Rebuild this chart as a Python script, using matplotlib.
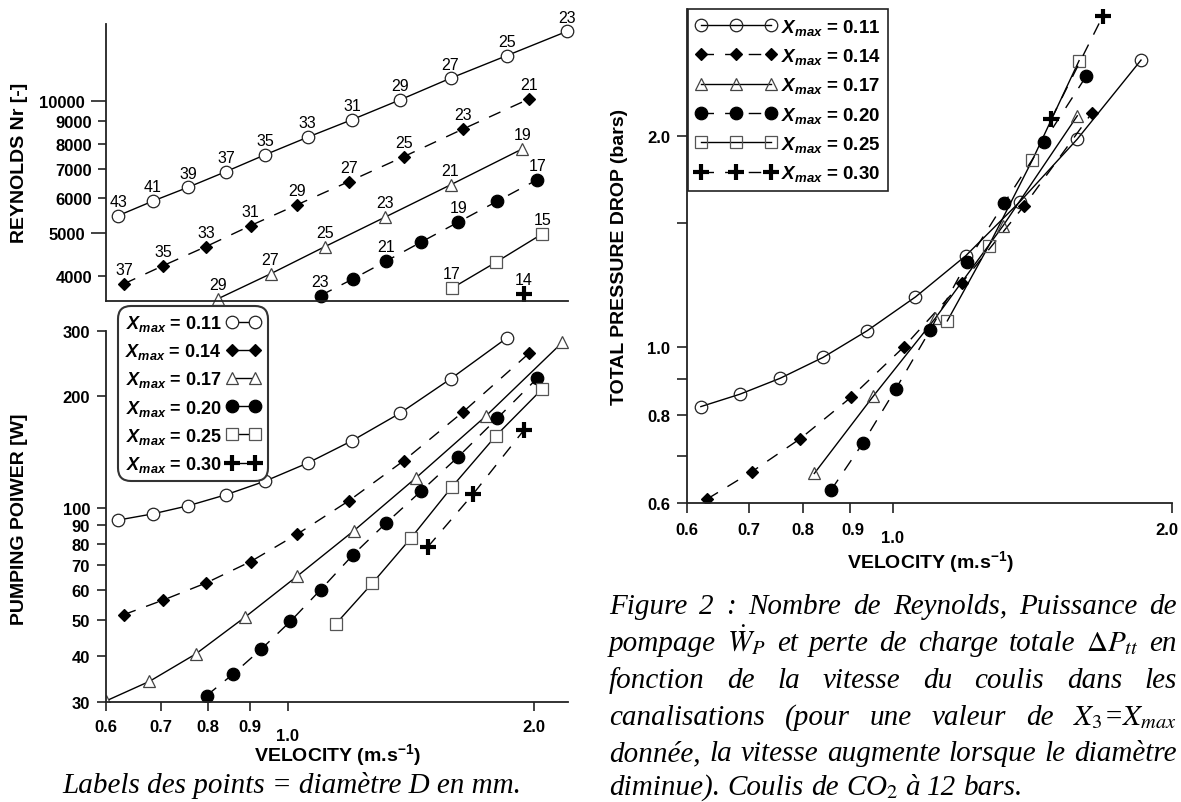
import re
import matplotlib
matplotlib.use('Agg')
import matplotlib.pyplot as plt
from matplotlib.lines import Line2D
from matplotlib.ticker import FixedLocator, NullLocator, FixedFormatter, NullFormatter

plt.rcParams['font.family'] = ['Liberation Sans', 'DejaVu Sans']
plt.rcParams['mathtext.fontset'] = 'custom'
plt.rcParams['mathtext.rm'] = 'Liberation Sans:bold'
plt.rcParams['mathtext.it'] = 'Liberation Sans:italic:bold'
plt.rcParams['mathtext.bf'] = 'Liberation Sans:bold'

# ------------------------------------------------------------------ data
xmax_values = ['0.11', '0.14', '0.17', '0.20', '0.25', '0.30']

# Reynolds number panel (velocity m/s, Reynolds, point label = diameter mm)
re_v_011 = [0.621, 0.684, 0.756, 0.841, 0.938, 1.058, 1.199, 1.371, 1.581, 1.852, 2.195]
re_011 = [5485, 5916, 6364, 6909, 7540, 8270, 9069, 10052, 11262, 12676, 14402]
re_lab_011 = ['43', '41', '39', '37', '35', '33', '31', '29', '27', '25', '23']

re_v_014 = [0.631, 0.705, 0.795, 0.901, 1.028, 1.188, 1.386, 1.639, 1.972]
re_014 = [3838, 4223, 4665, 5206, 5811, 6556, 7469, 8639, 10105]
re_lab_014 = ['37', '35', '33', '31', '29', '27', '25', '23', '21']

re_v_017 = [0.823, 0.953, 1.111, 1.315, 1.581, 1.934]
re_017 = [3553, 4044, 4665, 5441, 6444, 7777]
re_lab_017 = ['29', '27', '25', '23', '21', '19']

re_v_020 = [1.097, 1.202, 1.319, 1.455, 1.616, 1.803, 2.019]
re_020 = [3610, 3939, 4322, 4774, 5302, 5916, 6625]
re_lab_020 = ['23', '', '21', '', '19', '', '17']

re_v_025 = [1.588, 1.797, 2.046]
re_025 = [3753, 4299, 4985]
re_lab_025 = ['17', '', '15']

re_v_030 = [1.944]
re_030 = [3642]
re_lab_030 = ['14']

# Pumping power panel (W)
pw_v_011 = [0.621, 0.684, 0.756, 0.841, 0.938, 1.058, 1.199, 1.371, 1.581, 1.852]
pw_011 = [92.8, 96.4, 101.4, 108.6, 118.1, 132.2, 151.9, 180.0, 222.8, 287.2]
pw_v_014 = [0.631, 0.705, 0.795, 0.901, 1.028, 1.188, 1.386, 1.639, 1.972]
pw_014 = [51.6, 56.5, 62.8, 71.7, 85.1, 104.6, 134.1, 181.8, 261.3]
pw_v_017 = [0.600, 0.678, 0.772, 0.887, 1.028, 1.205, 1.434, 1.745, 2.166]
pw_017 = [30.2, 34.1, 40.4, 50.8, 65.6, 86.9, 120.5, 176.7, 279.7]
pw_v_020 = [0.796, 0.858, 0.929, 1.008, 1.097, 1.202, 1.319, 1.455, 1.616, 1.803, 2.019]
pw_020 = [31.2, 35.7, 41.7, 49.5, 60.2, 74.8, 91.1, 111.0, 137.5, 174.5, 224.1]
pw_v_025 = [1.145, 1.269, 1.414, 1.588, 1.797, 2.046]
pw_025 = [48.7, 62.7, 82.9, 114.1, 156.7, 209.3]
pw_v_030 = [1.482, 1.685, 1.944]
pw_030 = [78.4, 109.1, 162.3]

# Total pressure drop panel (bars)
dp_v_011 = [0.621, 0.684, 0.756, 0.841, 0.938, 1.058, 1.199, 1.371, 1.581, 1.852]
dp_011 = [0.823, 0.857, 0.903, 0.967, 1.055, 1.179, 1.350, 1.611, 1.978, 2.563]
dp_v_014 = [0.631, 0.705, 0.795, 0.901, 1.028, 1.188, 1.386, 1.639]
dp_014 = [0.608, 0.665, 0.741, 0.848, 1.001, 1.236, 1.590, 2.154]
dp_v_017 = [0.823, 0.953, 1.111, 1.315, 1.581]
dp_017 = [0.661, 0.852, 1.099, 1.489, 2.135]
dp_v_020 = [0.858, 0.929, 1.008, 1.097, 1.202, 1.319, 1.455, 1.616]
dp_020 = [0.626, 0.731, 0.873, 1.057, 1.320, 1.604, 1.961, 2.430]
dp_v_025 = [1.145, 1.269, 1.414, 1.588]
dp_025 = [1.090, 1.394, 1.846, 2.558]
dp_v_030 = [1.482, 1.685]
dp_030 = [2.112, 2.964]

re_ticks = [4000, 5000, 6000, 7000, 8000, 9000, 10000]
pw_ticks = [30, 40, 50, 60, 70, 80, 90, 100, 200, 300]
dp_ticks = [0.6, 0.8, 1.0, 2.0]
dp_minor = [0.7, 0.9, 1.5]
v_ticks = [0.6, 0.7, 0.8, 0.9, 1.0, 2.0]
v_labels = ['0.6', '0.7', '0.8', '0.9', '1.0', '2.0']

caption_left = 'Labels des points = diamètre D en mm.'
caption_right = [
    'Figure 2\u00a0: Nombre de Reynolds, Puissance de',
    r'pompage $\dot{W}_P$ et perte de charge totale $\Delta{}P_{tt}$ en',
    'fonction de la vitesse du coulis dans les',
    r'canalisations (pour une valeur de $X_3$=$X_{max}$',
    'donnée, la vitesse augmente lorsque le diamètre',
    r'diminue). Coulis de CO$_2$ à 12 bars.',
]

# ------------------------------------------------------------------ figure
W, H = 1181, 803
fig = plt.figure(figsize=(W / 100, H / 100), dpi=100)
fig.patch.set_facecolor('white')


def rect(x0, y0, x1, y1):
    return [x0 / W, 1 - y1 / H, (x1 - x0) / W, (y1 - y0) / H]


DASH = (0, (9, 8))
style = {
    '0.11': dict(ls='-', marker='o', ms=9, mfc='white', mec='#222222', mew=0.9),
    '0.14': dict(ls=DASH, marker='D', ms=6.5, mfc='black', mec='black', mew=0.9),
    '0.17': dict(ls='-', marker='^', ms=8.5, mfc='white', mec='#444444', mew=0.9),
    '0.20': dict(ls=DASH, marker='o', ms=9, mfc='black', mec='black', mew=0.9),
    '0.25': dict(ls='-', marker='s', ms=8.5, mfc='white', mec='#555555', mew=0.9),
    '0.30': dict(ls=DASH, marker='+', ms=11, mfc='black', mec='black', mew=3.0),
}
LW = 1.0
SPINE = 1.3
TICKFS = 12

re_series = [(re_v_011, re_011, re_lab_011), (re_v_014, re_014, re_lab_014),
             (re_v_017, re_017, re_lab_017), (re_v_020, re_020, re_lab_020),
             (re_v_025, re_025, re_lab_025), (re_v_030, re_030, re_lab_030)]
pw_series = [(pw_v_011, pw_011), (pw_v_014, pw_014), (pw_v_017, pw_017),
             (pw_v_020, pw_020), (pw_v_025, pw_025), (pw_v_030, pw_030)]
dp_series = [(dp_v_011, dp_011), (dp_v_014, dp_014), (dp_v_017, dp_017),
             (dp_v_020, dp_020), (dp_v_025, dp_025), (dp_v_030, dp_030)]


def base_axes(ax):
    for s in ['top', 'right']:
        ax.spines[s].set_visible(False)
    for s in ['left', 'bottom']:
        ax.spines[s].set_linewidth(SPINE)
        ax.spines[s].set_color('#222222')
    ax.set_xscale('log')
    ax.set_yscale('log')
    ax.xaxis.set_minor_locator(NullLocator())
    ax.yaxis.set_minor_locator(NullLocator())
    ax.xaxis.set_minor_formatter(NullFormatter())
    ax.yaxis.set_minor_formatter(NullFormatter())
    ax.tick_params(which='both', direction='out', width=1.2, color='#222222',
                   labelsize=TICKFS)
    ax.patch.set_alpha(0)


def x_labels(ax, dy, dy_low, low_tick=1.0, dx_map=None):
    dx_map = dx_map or {}
    ax.set_xticks(v_ticks)
    ax.set_xticklabels([''] * len(v_ticks))
    ax.xaxis.set_minor_locator(NullLocator())
    for t, l in zip(v_ticks, v_labels):
        ax.annotate(l, xy=(t, 0), xycoords=('data', 'axes fraction'),
                    xytext=(dx_map.get(t, 0), dy_low if t == low_tick else dy),
                    textcoords='offset points', ha='center', va='top',
                    fontsize=TICKFS, fontweight='bold', annotation_clip=False)


# ---------------- top-left : Reynolds
ax1 = fig.add_axes(rect(106, 25, 568, 302))
base_axes(ax1)
ax1.set_xlim(0.6, 2.2)
ax1.set_ylim(3508, 14960)
ax1.set_xticks([])
ax1.xaxis.set_minor_locator(NullLocator())
ax1.yaxis.set_major_locator(FixedLocator([5000, 10000]))
ax1.yaxis.set_major_formatter(FixedFormatter(['5000', '10000']))
ax1.yaxis.set_minor_locator(FixedLocator([4000, 6000, 7000, 8000, 9000]))
ax1.yaxis.set_minor_formatter(FixedFormatter(['4000', '6000', '7000', '8000', '9000']))
ax1.tick_params(axis='y', which='major', length=11, pad=4)
ax1.tick_params(axis='y', which='minor', length=6, pad=4, labelsize=TICKFS)
for lab in ax1.get_yticklabels(which='both'):
    lab.set_fontweight('bold')
for key, (v, r, labs) in zip(xmax_values, re_series):
    ax1.plot(v, r, color='black', lw=LW, **style[key], clip_on=False)
    for vi, ri, li in zip(v, r, labs):
        if li:
            ax1.annotate(li, xy=(vi, ri), xytext=(0, 7), textcoords='offset points',
                         ha='center', va='baseline', fontsize=11.5,
                         fontweight='normal', annotation_clip=False)

# ---------------- bottom-left : pumping power
ax2 = fig.add_axes(rect(106, 332, 568, 703))
base_axes(ax2)
ax2.set_xlim(0.6, 2.2)
ax2.set_ylim(30, 300)
ax2.set_yticks(pw_ticks)
ax2.set_yticklabels([str(t) for t in pw_ticks], fontweight='bold')
ax2.yaxis.set_minor_locator(NullLocator())
ax2.tick_params(axis='y', length=6.5, pad=5)
ax2.tick_params(axis='x', length=6.5)
x_labels(ax2, dy=-12.5, dy_low=-18.5)
for key, (v, p) in zip(xmax_values, pw_series):
    ax2.plot(v, p, color='black', lw=LW, **style[key])

leg_handles = [Line2D([], [], color='black', lw=LW, **dict(style[k], ls='-')) for k in xmax_values]
leg_labels = [r'$X_{max}$ = ' + k for k in xmax_values]
leg1 = fig.legend(leg_handles, leg_labels, loc='upper left',
                  bbox_to_anchor=(118 / W, 1 - 307 / H), bbox_transform=fig.transFigure,
                  markerfirst=False, numpoints=2, handlelength=1.9, handletextpad=0.3,
                  labelspacing=0.45, borderpad=0.4, borderaxespad=0, fancybox=True,
                  framealpha=1, edgecolor='#333333', prop={'weight': 'bold', 'size': 13})
leg1.get_frame().set_linewidth(1.5)
leg1.get_frame().set_boxstyle('round', pad=0, rounding_size=0.7)

fig.text(20 / W, 1 - 163 / H, 'REYNOLDS Nr [-]', rotation=90, ha='center', va='center',
         fontsize=14, fontweight='bold')
fig.text(20 / W, 1 - 519 / H, 'PUMPING POIWER [W]', rotation=90, ha='center', va='center',
         fontsize=14, fontweight='bold')
fig.text(337 / W, 1 - 755 / H, r'VELOCITY (m.s$^{-1}$)', ha='center', va='center',
         fontsize=14, fontweight='bold')
fig.text(62 / W, 1 - 793 / H, caption_left, ha='left', va='baseline', fontsize=21,
         family='Liberation Serif', style='italic')

# ---------------- right : total pressure drop
ax3 = fig.add_axes(rect(687, 10, 1172, 504))
base_axes(ax3)
ax3.set_xlim(0.6, 2.0)
ax3.set_ylim(0.6, 3.03)
ax3.set_yticks(dp_ticks + dp_minor)
ax3.set_yticklabels(['0.6', '0.8', '1.0', '2.0', '', '', ''], fontweight='bold')
ax3.yaxis.set_minor_locator(NullLocator())
ax3.tick_params(axis='y', length=7, pad=5)
ax3.tick_params(axis='x', length=7)
x_labels(ax3, dy=-13.5, dy_low=-19.5, dx_map={0.9: 2, 2.0: -3.5})
for key, (v, p) in zip(xmax_values, dp_series):
    st = dict(style[key])
    if st['mfc'] == 'white':
        st['mfc'] = 'none'
    ax3.plot(v, p, color='black', lw=LW, **st)

leg_handles2 = []
for k in xmax_values:
    st = dict(style[k])
    if st['mfc'] == 'white':
        st['mfc'] = 'none'
    leg_handles2.append(Line2D([], [], color='black', lw=LW, **st))
leg2 = fig.legend(leg_handles2, leg_labels, loc='upper left',
                  bbox_to_anchor=(688 / W, 1 - 10 / H), bbox_transform=fig.transFigure,
                  numpoints=3, handlelength=4.3, handletextpad=0.25,
                  labelspacing=0.5, borderpad=0.4, borderaxespad=0, fancybox=False,
                  framealpha=1, edgecolor='#222222', prop={'weight': 'bold', 'size': 13.5})
leg2.get_frame().set_linewidth(1.2)

fig.text(620 / W, 1 - 257 / H, 'TOTAL PRESSURE DROP (bars)', rotation=90, ha='center',
         va='center', fontsize=14, fontweight='bold')
fig.text(930 / W, 1 - 562 / H, r'VELOCITY (m.s$^{-1}$)', ha='center', va='center',
         fontsize=14, fontweight='bold')

# ---------------- right caption (justified lines)
cap_x0, cap_x1 = 609, 1177
cap_base = [614, 651, 688, 725, 761, 795]
cap_font = dict(fontsize=21, family='Liberation Serif', style='italic', math_fontfamily='stix')
fig.canvas.draw()
renderer = fig.canvas.get_renderer()
probe1 = fig.text(0, 0, 'a a', **cap_font)
probe2 = fig.text(0, 0, 'aa', **cap_font)
space_w = probe1.get_window_extent(renderer).width - probe2.get_window_extent(renderer).width
probe1.remove()
probe2.remove()
for i, line in enumerate(caption_right):
    words = re.findall(r'(?:\$[^$]*\$|\S)+', line)
    texts = [fig.text(0, 1 - cap_base[i] / H, w, ha='left', va='baseline', **cap_font)
             for w in words]
    widths = [t.get_window_extent(renderer).width for t in texts]
    if i < len(caption_right) - 1:
        gap = (cap_x1 - cap_x0 - sum(widths)) / (len(words) - 1)
    else:
        gap = space_w
    x = cap_x0
    for t, w in zip(texts, widths):
        t.set_x(x / W)
        x += w + gap

fig.savefig('out.png', dpi=100, facecolor='white')
